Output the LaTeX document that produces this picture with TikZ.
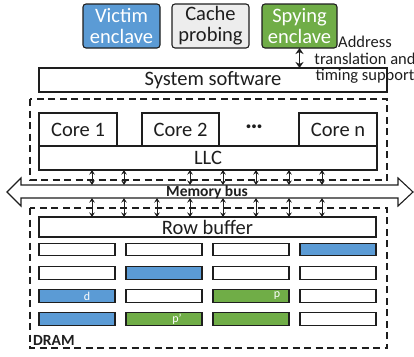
\documentclass[tikz,border=0pt]{standalone}
\usepackage{fontspec}
\setmainfont{Carlito}
\usetikzlibrary{arrows.meta}
\definecolor{vblue}{HTML}{5B9BD5}
\definecolor{sgreen}{HTML}{70AD47}
\definecolor{cgray}{HTML}{EDEDED}
\definecolor{ink}{HTML}{1E1E1E}
\tikzset{
  bigfont/.style={font=\fontsize{20.5}{21}\selectfont},
  enc/.style={draw=ink, line width=1.1pt, rounded corners=3pt, inner sep=0pt, outer sep=0pt, align=center, bigfont},
  box/.style={draw=ink, line width=1.1pt, fill=white, inner sep=0pt, outer sep=0pt, bigfont, text=ink},
  cell/.style={draw=ink, line width=1.3pt, inner sep=0pt, outer sep=0pt, minimum width=76pt, minimum height=12.5pt},
  wcell/.style={cell, fill=white},
  bcell/.style={cell, fill=vblue},
  gcell/.style={cell, fill=sgreen},
  dbox/.style={draw=ink, line width=1.1pt, dash pattern=on 7pt off 4.5pt},
  dar/.style={{Stealth[length=4.5pt,width=5.5pt]}-{Stealth[length=4.5pt,width=5.5pt]}, line width=0.9pt, draw=ink},
  bdar/.style={{Stealth[length=6pt,width=8pt]}-{Stealth[length=6pt,width=8pt]}, line width=1.3pt, draw=ink},
  clab/.style={text=white, font=\fontsize{12}{12}\selectfont, inner sep=0pt},
}
\begin{document}
\begin{tikzpicture}[x=1pt,y=-1pt]
\useasboundingbox (0,0) rectangle (414,356);
% top enclaves
\node[enc, fill=vblue, text=white, minimum width=77pt, minimum height=44pt] (victim) at (121.5,26) {Victim\\enclave};
\node[enc, fill=cgray, text=ink, minimum width=77pt, minimum height=44pt] (cache) at (210.5,26) {Cache\\probing};
\node[enc, fill=sgreen, text=white, minimum width=75pt, minimum height=44pt] (spy) at (299.5,26) {Spying\\enclave};
\node[box, minimum width=348pt, minimum height=24pt] (sys) at (213,80) {System software};
\node[align=center, text=ink, inner sep=0pt, font=\fontsize{16.5}{16.5}\selectfont] (ann) at (365,60) {Address\\translation and\\timing support};
\draw[bdar] (spy.south) -- (spy.south |- sys.north);
% CPU part
\draw[dbox] (30,99) rectangle (387,180);
\node[box, minimum width=78pt, minimum height=33pt] (core1) at (78,129.5) {Core 1};
\node[box, minimum width=77pt, minimum height=33pt] (core2) at (180.5,129.5) {Core 2};
\node[box, minimum width=78pt, minimum height=33pt] (coren) at (338,129.5) {Core n};
\node[inner sep=0pt, text=ink, font=\fontsize{20.5}{21}\selectfont\bfseries] (dots) at (254,129) {···};
\node[box, minimum width=338pt, minimum height=24pt] (llc) at (208,158) {LLC};
% memory bus
\draw[draw=ink, line width=1.1pt, fill=white] (7,192) -- (21,178) -- (21,185) -- (398,185) -- (398,178) -- (413,192) -- (398,206) -- (398,198) -- (21,198) -- (21,206) -- cycle;
\coordinate (busT) at (0,185);
\coordinate (busB) at (0,198);
\node[inner sep=0pt, text=ink, font=\fontsize{15.5}{15.5}\selectfont\bfseries] (busl) at (207,192) {Memory bus};
\foreach \x in {92,124,190,223,256,289,322}
  \draw[dar] (\x,0 |- llc.south) -- (\x,0 |- busT);
% DRAM
\draw[dbox] (30,208) rectangle (387,348);
\node[box, minimum width=337pt, minimum height=20pt] (rowbuf) at (207.5,227) {Row buffer};
\foreach \x in {92,124,157,190,223,256,289,322}
  \draw[dar] (\x,0 |- busB) -- (\x,0 |- rowbuf.north);
% row 1
\node[wcell] (c11) at (77,249.5) {};
\node[wcell] (c12) at (164,249.5) {};
\node[wcell] (c13) at (251,249.5) {};
\node[bcell] (c14) at (338,249.5) {};
% row 2
\node[wcell] (c21) at (77,273) {};
\node[bcell] (c22) at (164,273) {};
\node[wcell] (c23) at (251,273) {};
\node[wcell] (c24) at (338,273) {};
% row 3
\node[bcell] (c31) at (77,296) {};
\node[wcell] (c32) at (164,296) {};
\node[gcell] (c33) at (251,296) {};
\node[wcell] (c34) at (338,296) {};
% row 4
\node[bcell] (c41) at (77,319) {};
\node[gcell] (c42) at (164,319) {};
\node[gcell] (c43) at (251,319) {};
\node[wcell] (c44) at (338,319) {};
\node[clab] (ld) at (87,296) {d};
\node[clab] (lp) at (277,296) {p};
\node[clab] (lpp) at (177,319) {p’};
\node[anchor=west, inner sep=0pt, text=ink, font=\fontsize{15.5}{15.5}\selectfont\bfseries] (dram) at (33,340) {DRAM};
\end{tikzpicture}
\end{document}
